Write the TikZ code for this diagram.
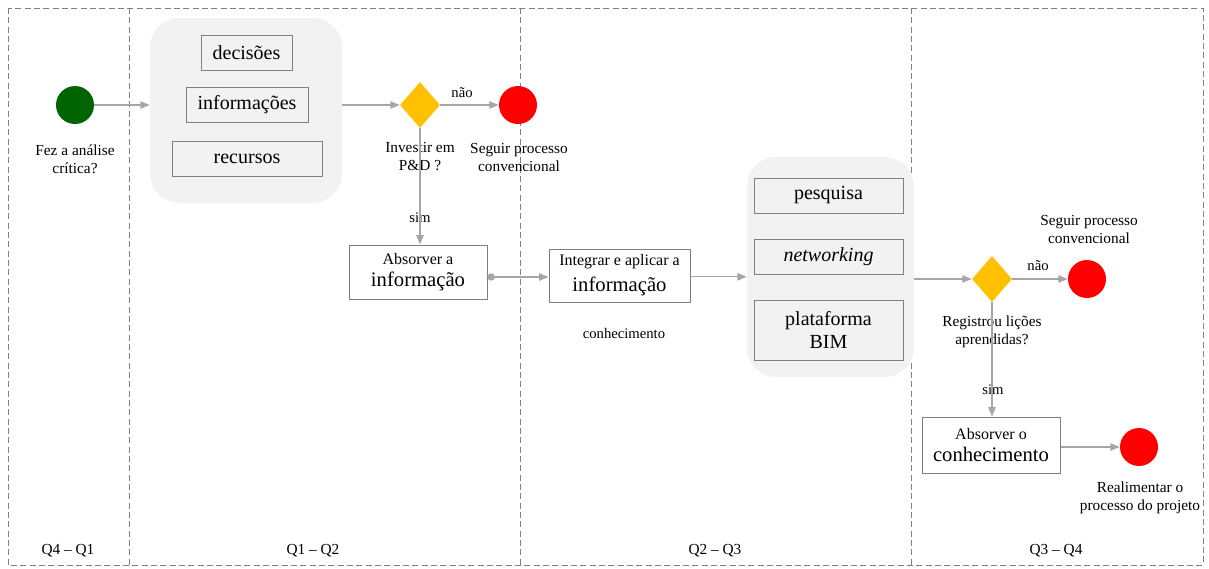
\documentclass[tikz,border=0pt]{standalone}
\usepackage{fontspec}
\setmainfont{Liberation Serif}
\usetikzlibrary{shapes.geometric,arrows.meta}

\newcommand{\fsz}[2]{\fontsize{#1}{#2}\selectfont}

\definecolor{lanegray}{HTML}{808080}
\definecolor{arrowgray}{HTML}{A6A6A6}
\definecolor{boxgray}{HTML}{7F7F7F}
\definecolor{panel}{HTML}{F2F2F2}
\definecolor{startgreen}{HTML}{006400}
\definecolor{endred}{HTML}{FF0000}
\definecolor{gatewayyellow}{HTML}{FFC000}

\tikzset{
  lane/.style={draw=lanegray, line width=0.75pt, dash pattern=on 4.5pt off 2.5pt},
  flow/.style={draw=arrowgray, line width=0.9pt, -{Triangle[length=7pt,width=5.5pt]}},
  dotflow/.style={draw=arrowgray, line width=0.9pt, {Circle[length=5.5pt]}-{Triangle[length=7pt,width=5.5pt]}},
  container/.style={fill=panel, rounded corners=22pt, draw=none, inner sep=0},
  itembox/.style={draw=boxgray, fill=panel, line width=0.75pt, inner sep=0, font=\fsz{15}{17}, align=center},
  taskbox/.style={draw=boxgray, fill=white, line width=0.75pt, inner sep=0, align=center},
  startev/.style={circle, fill=startgreen, minimum size=28.5pt, inner sep=0},
  endev/.style={circle, fill=endred, minimum size=28.5pt, inner sep=0},
  gateway/.style={diamond, fill=gatewayyellow, minimum width=30pt, minimum height=34.5pt, inner sep=0},
  caption/.style={font=\fsz{11.5}{13.5}, align=center, inner sep=0},
  small/.style={font=\fsz{11}{13}, inner sep=0}
}

\begin{document}
\begin{tikzpicture}[x=0.75pt, y=-0.75pt]
\useasboundingbox (0,0) rectangle (1209,568);

% swimlanes
\draw[lane] (8,8) rectangle (1203,565);
\draw[lane] (129,8) -- (129,565);
\draw[lane] (520,8) -- (520,565);
\draw[lane] (911,8) -- (911,565);

\node[caption] (q41) at (68,551) {Q4 -- Q1};
\node[caption] (q12) at (313,551) {Q1 -- Q2};
\node[caption] (q23) at (715,551) {Q2 -- Q3};
\node[caption] (q34) at (1056,551) {Q3 -- Q4};

% Q4 - Q1
\node[startev] (start) at (75,105) {};
\node[caption] (startlbl) at (75,159) {Fez a análise\\crítica?};

% Q1 - Q2
\node[container, minimum width=144pt, minimum height=138.75pt] (panelA) at (246,110.5) {};
\node[itembox, minimum width=68.25pt, minimum height=26.25pt] (decisoes) at (246.5,52.5) {decisões};
\node[itembox, minimum width=91.5pt, minimum height=26.25pt] (informacoes) at (247,104.5) {informações};
\node[itembox, minimum width=112.5pt, minimum height=26.25pt] (recursos) at (247,158.5) {recursos};

\node[gateway] (gw1) at (420,105) {};
\node[caption] (gw1lbl) at (420,157) {Investir em\\P\&D ?};
\node[endev] (end1) at (518,105) {};
\node[caption] (end1lbl) at (519,157) {Seguir processo\\convencional};
\node[small] (nao1) at (462,93) {não};
\node[small] (sim1) at (420,218) {sim};

\node[taskbox, minimum width=103.5pt, minimum height=40.5pt] (absA) at (418,272)
  {{\fsz{12}{14}Absorver a}\\[5pt]{\fsz{15.5}{17}informação}};

% Q2 - Q3
\node[taskbox, minimum width=105.75pt, minimum height=39.75pt] (integ) at (619.5,275.5)
  {{\fsz{12}{14}Integrar e aplicar a}\\[5pt]{\fsz{15.5}{17}informação}};
\node[small] (conh) at (624,333) {conhecimento};

\node[container, minimum width=125.25pt, minimum height=165pt] (panelB) at (830.5,267) {};
\node[itembox, minimum width=111.75pt, minimum height=26.25pt] (pesq) at (828.5,195.5) {pesquisa};
\node[itembox, minimum width=111.75pt, minimum height=26.25pt] (netw) at (828.5,256.5) {\itshape networking};
\node[itembox, minimum width=111.75pt, minimum height=45pt] (bim) at (828.5,330) {plataforma\\BIM};

% Q3 - Q4
\node[gateway] (gw2) at (992,279) {};
\node[caption] (gw2lbl) at (992,332) {Registrou lições\\aprendidas?};
\node[endev] (end2) at (1087,279) {};
\node[caption] (end2lbl) at (1089,229) {Seguir processo\\convencional};
\node[small] (nao2) at (1038,266) {não};
\node[small] (sim2) at (993,390) {sim};

\node[taskbox, minimum width=103.5pt, minimum height=42pt] (absB) at (991,445)
  {{\fsz{12}{14}Absorver o}\\[5pt]{\fsz{15.5}{17}conhecimento}};
\node[endev] (end3) at (1139,447) {};
\node[caption] (end3lbl) at (1140,498) {Realimentar o\\processo do projeto};

% sequence flows
\draw[flow] (start.east) -- (start.east -| panelA.west);
\draw[flow] (panelA.east |- gw1) -- (gw1.west);
\draw[flow] (gw1.east) -- (gw1.east -| end1.west);
\draw[flow] (gw1.south) -- (gw1.south |- absA.north);
\draw[dotflow] ([yshift=-3.75pt]absA.east) -- ([yshift=-3.75pt]absA.east -| integ.west);
\draw[flow] ([yshift=-1pt]integ.east) -- ([yshift=-1pt]integ.east -| panelB.west);
\draw[flow] (panelB.east |- gw2) -- (gw2.west);
\draw[flow] (gw2.east) -- (gw2.east -| end2.west);
\draw[flow] (gw2.south) -- (gw2.south |- absB.north);
\draw[flow] (absB.east |- end3) -- (end3.west);
\end{tikzpicture}
\end{document}
